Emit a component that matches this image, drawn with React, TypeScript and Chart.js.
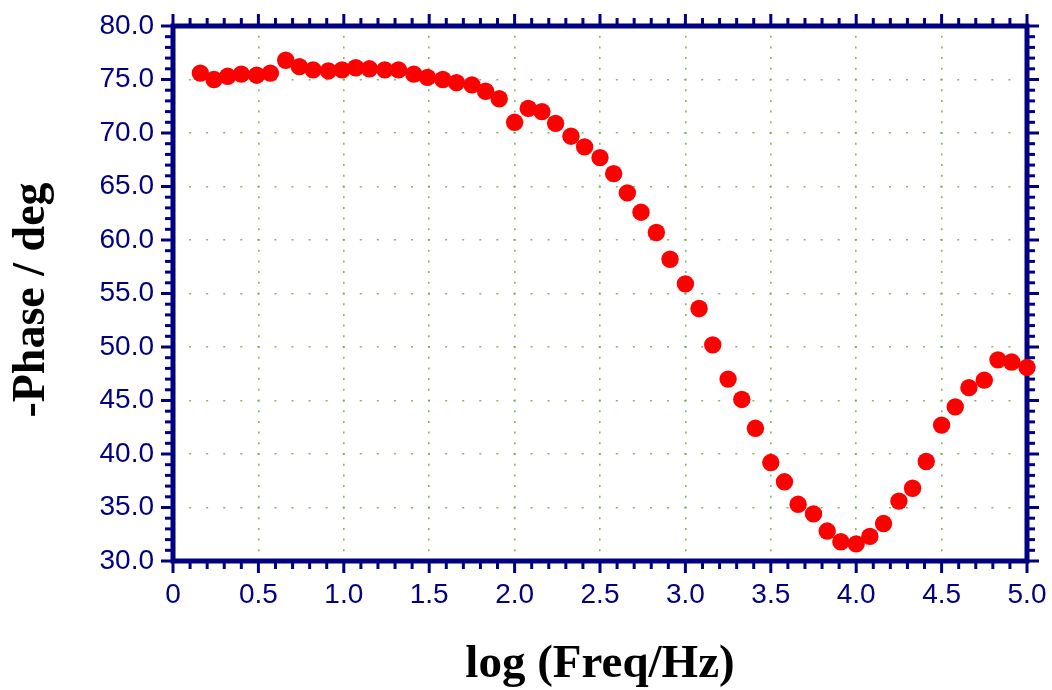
import React, { useEffect, useRef } from "react";
import { Chart, registerables } from "chart.js";

Chart.register(...registerables);

const logFreq = [
  0.16, 0.24, 0.32, 0.40, 0.49, 0.57, 0.66, 0.74, 0.82, 0.91,
  0.99, 1.07, 1.15, 1.24, 1.32, 1.41, 1.49, 1.58, 1.66, 1.75,
  1.83, 1.91, 2.00, 2.08, 2.16, 2.24, 2.33, 2.41, 2.50, 2.58,
  2.66, 2.74, 2.83, 2.91, 3.00, 3.08, 3.16, 3.25, 3.33, 3.41,
  3.50, 3.58, 3.66, 3.75, 3.83, 3.91, 4.00, 4.08, 4.16, 4.25,
  4.33, 4.41, 4.50, 4.58, 4.66, 4.75, 4.83, 4.91, 5.00,
];

const negPhase = [
  75.6, 75.0, 75.3, 75.5, 75.4, 75.6, 76.8, 76.2, 75.9, 75.8,
  75.9, 76.1, 76.0, 75.9, 75.9, 75.5, 75.2, 75.0, 74.7, 74.5,
  73.9, 73.2, 71.0, 72.3, 72.0, 70.9, 69.7, 68.7, 67.7, 66.2,
  64.4, 62.6, 60.7, 58.2, 55.9, 53.6, 50.2, 47.0, 45.1, 42.4,
  39.2, 37.4, 35.3, 34.4, 32.8, 31.8, 31.6, 32.3, 33.5, 35.6,
  36.8, 39.3, 42.7, 44.4, 46.2, 46.9, 48.8, 48.6, 48.1,
];

const xTitle = "log (Freq/Hz)";
const yTitle = "-Phase / deg";
const xRange = [0, 5];
const yRange = [30, 80];

const NAVY = "#000080";
const GRID = "rgba(115,170,65,0.85)";
const TITLE_FONT = "'Liberation Serif', 'Times New Roman', serif";
const TICK_FONT = "'Liberation Sans', Arial, sans-serif";

const framePlugin = {
  id: "frame",
  beforeDatasetsDraw(chart: any) {
    const { ctx, chartArea: a, scales } = chart;
    const x = scales.x;
    const y = scales.y;
    ctx.save();
    ctx.strokeStyle = NAVY;
    ctx.lineCap = "butt";
    ctx.lineWidth = 3;
    const seg = (x1: number, y1: number, x2: number, y2: number) => {
      ctx.beginPath();
      ctx.moveTo(x1, y1);
      ctx.lineTo(x2, y2);
      ctx.stroke();
    };
    for (let i = 0; i <= 50; i++) {
      const px = x.getPixelForValue(i / 10);
      const len = i % 5 === 0 ? 12 : 8;
      seg(px, a.top, px, a.top - len);
      seg(px, a.bottom, px, a.bottom + len);
    }
    for (let v = yRange[0]; v <= yRange[1]; v++) {
      const py = y.getPixelForValue(v);
      const len = v % 5 === 0 ? 12 : 8;
      seg(a.left, py, a.left - len, py);
      seg(a.right, py, a.right + len, py);
    }
    ctx.lineWidth = 5;
    ctx.strokeRect(a.left, a.top, a.right - a.left, a.bottom - a.top);
    ctx.restore();
  },
  afterDraw(chart: any) {
    const { ctx, chartArea: a } = chart;
    ctx.save();
    ctx.fillStyle = "#000000";
    ctx.textBaseline = "alphabetic";
    ctx.textAlign = "center";
    ctx.font = `bold 47px ${TITLE_FONT}`;
    ctx.fillText(xTitle, (a.left + a.right) / 2, 677);
    ctx.translate(44, 300);
    ctx.rotate(-Math.PI / 2);
    ctx.font = `bold 46px ${TITLE_FONT}`;
    ctx.fillText(yTitle, 0, 0);
    ctx.restore();
  },
};

export default function App() {
  const ref = useRef<HTMLCanvasElement | null>(null);

  useEffect(() => {
    if (!ref.current) return;
    const chart = new Chart(ref.current, {
      type: "scatter",
      data: {
        datasets: [
          {
            data: logFreq.map((v, i) => ({ x: v, y: negPhase[i] })),
            backgroundColor: "#ff0000",
            borderColor: "#ff0000",
            borderWidth: 0,
            pointRadius: 8.7,
            clip: false,
          } as any,
        ],
      },
      options: {
        animation: false,
        responsive: false,
        layout: { padding: { left: 7, top: 26, right: 25, bottom: 4 } },
        plugins: { legend: { display: false }, tooltip: { enabled: false } },
        scales: {
          x: {
            type: "linear",
            min: xRange[0],
            max: xRange[1],
            afterFit: (s: any) => {
              s.height = 125;
              s.paddingLeft = 0;
              s.paddingRight = 0;
              s.paddingTop = 0;
              s.paddingBottom = 0;
            },
            border: { display: false, dash: [2, 8.7], dashOffset: 1 },
            grid: {
              color: GRID,
              lineWidth: 1.6,
              drawTicks: false,
            },
            ticks: {
              stepSize: 0.5,
              autoSkip: false,
              maxRotation: 0,
              padding: 17,
              color: NAVY,
              font: { family: TICK_FONT, size: 28 },
              callback: (v: any) => (Number(v) === 0 ? "0" : Number(v).toFixed(1)),
            },
            title: { display: false },
          },
          y: {
            type: "linear",
            min: yRange[0],
            max: yRange[1],
            afterFit: (s: any) => {
              s.width = 166;
              s.paddingLeft = 0;
              s.paddingRight = 0;
              s.paddingTop = 0;
              s.paddingBottom = 0;
            },
            border: { display: false, dash: [2, 15.07], dashOffset: 1 },
            grid: {
              color: GRID,
              lineWidth: 1.6,
              drawTicks: false,
            },
            ticks: {
              stepSize: 5,
              autoSkip: false,
              padding: 19,
              color: NAVY,
              font: { family: TICK_FONT, size: 28 },
              callback: (v: any) => Number(v).toFixed(1),
            },
            title: { display: false },
          },
        },
      } as any,
      plugins: [framePlugin],
    });
    return () => chart.destroy();
  }, []);

  return (
    <div style={{ position: "fixed", left: 0, top: 0, width: 1052, height: 690, background: "#fff" }}>
      <canvas ref={ref} width={1052} height={690} style={{ width: 1052, height: 690, display: "block" }} />
    </div>
  );
}
